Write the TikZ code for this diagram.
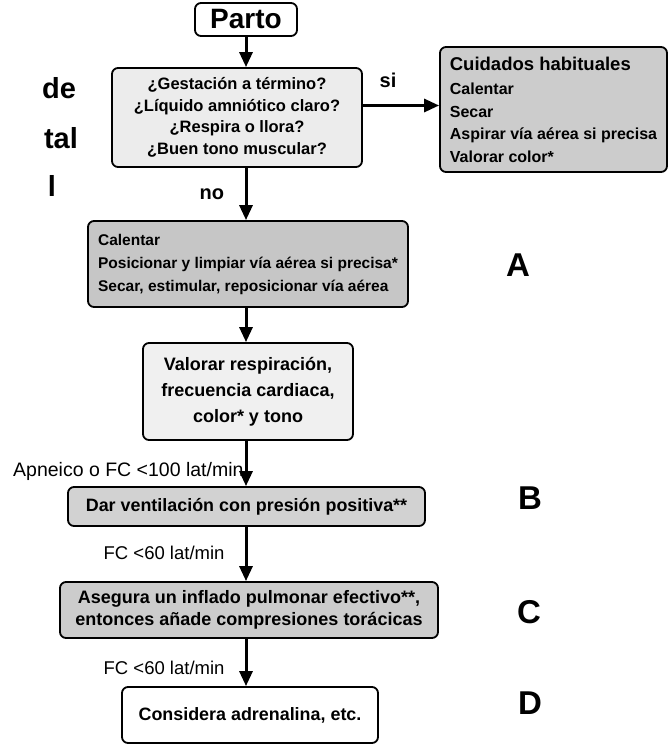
\documentclass[tikz,border=0pt]{standalone}
\usepackage{fontspec}
\setmainfont{Liberation Sans}
\usetikzlibrary{arrows.meta}
\begin{document}
\begin{tikzpicture}[x=1pt,y=-1pt,
	box/.style={draw,line width=1.8pt,rounded corners=6pt,inner sep=0pt},
	arr/.style={line width=3pt,-{Triangle[length=15pt,width=13pt]}},
	lbl/.style={inner sep=1pt,font=\fontsize{18.5}{20}\selectfont},
	tag/.style={font=\bfseries\fontsize{33}{35}\selectfont},
	frag/.style={font=\bfseries\fontsize{29}{31}\selectfont}]
	\useasboundingbox (0,0) rectangle (668,744);
	\node [frag] (fde) at (59,88) {de};
	\node [frag] (ftal) at (61,138) {tal};
	\node [frag] (fl) at (52,186) {l};
	\node [box,fill=white,minimum width=102,minimum height=33,font=\bfseries\fontsize{28}{30}\selectfont] (parto) at (246,19.5) {Parto};
	\node [box,fill=gray!15,minimum width=250,minimum height=99,align=center,font=\bfseries\fontsize{16.5}{21.5}\selectfont] (quest) at (237,117.5) {¿Gestación a término?\\¿Líquido amniótico claro?\\¿Respira o llora?\\¿Buen tono muscular?};
	\node [box,fill=gray!40,minimum width=227,minimum height=125,align=left,font=\bfseries\fontsize{16}{22.5}\selectfont] (cuid) at (553.5,109.5) {{\fontsize{18.5}{22}\selectfont Cuidados habituales}\\[2pt]Calentar\\Secar\\Aspirar vía aérea si precisa\\Valorar color*};
	\node [box,fill=gray!45,minimum width=320,minimum height=86,align=left,font=\bfseries\fontsize{15.5}{23}\selectfont] (calent) at (248,264) {Calentar\\Posicionar y limpiar vía aérea si precisa*\\Secar, estimular, reposicionar vía aérea};
	\node [box,fill=gray!12,minimum width=210,minimum height=97,align=center,font=\bfseries\fontsize{18}{26}\selectfont] (valor) at (248,391.5) {Valorar respiración,\\frecuencia cardiaca,\\color* y tono};
	\node [box,fill=gray!35,minimum width=357,minimum height=39,font=\bfseries\fontsize{17.9}{20}\selectfont] (ventil) at (246.5,506.5) {Dar ventilación con presión positiva**};
	\node [box,fill=gray!40,minimum width=378,minimum height=56,align=center,font=\bfseries\fontsize{18}{22}\selectfont] (compr) at (249,610) {Asegura un inflado pulmonar efectivo**,\\entonces añade compresiones torácicas};
	\node [box,fill=white,minimum width=256,minimum height=56,font=\bfseries\fontsize{17.9}{20}\selectfont] (adren) at (250,715) {Considera adrenalina, etc.};
	\node [tag] (tA) at (518,265) {A};
	\node [tag] (tB) at (530,498) {B};
	\node [tag] (tC) at (529,612) {C};
	\node [tag] (tD) at (530,703) {D};
	\draw [arr] (parto.south) -- (parto.south |- quest.north);
	\draw [arr] ([yshift=12pt]quest.east) -- ([yshift=12pt]quest.east -| cuid.west)
		node [pos=0.33,above=13pt,font=\bfseries\fontsize{20}{22}\selectfont] {si};
	\draw [arr] (quest.south -| parto) -- (calent.north -| parto)
		node [midway,left=17pt,font=\bfseries\fontsize{20}{22}\selectfont] {no};
	\draw [arr] (calent.south -| parto) -- (valor.north -| parto);
	\draw [arr] (valor.south -| parto) -- (ventil.north -| parto)
		node [lbl,pos=0.68,left=0pt,font=\fontsize{19.5}{20}\selectfont] {Apneico o FC <100 lat/min};
	\draw [arr] (ventil.south -| parto) -- (compr.north -| parto)
		node [lbl,pos=0.48,left=19pt] {FC <60 lat/min};
	\draw [arr] (compr.south -| parto) -- (adren.north -| parto)
		node [lbl,pos=0.61,left=19pt] {FC <60 lat/min};
\end{tikzpicture}
\end{document}
